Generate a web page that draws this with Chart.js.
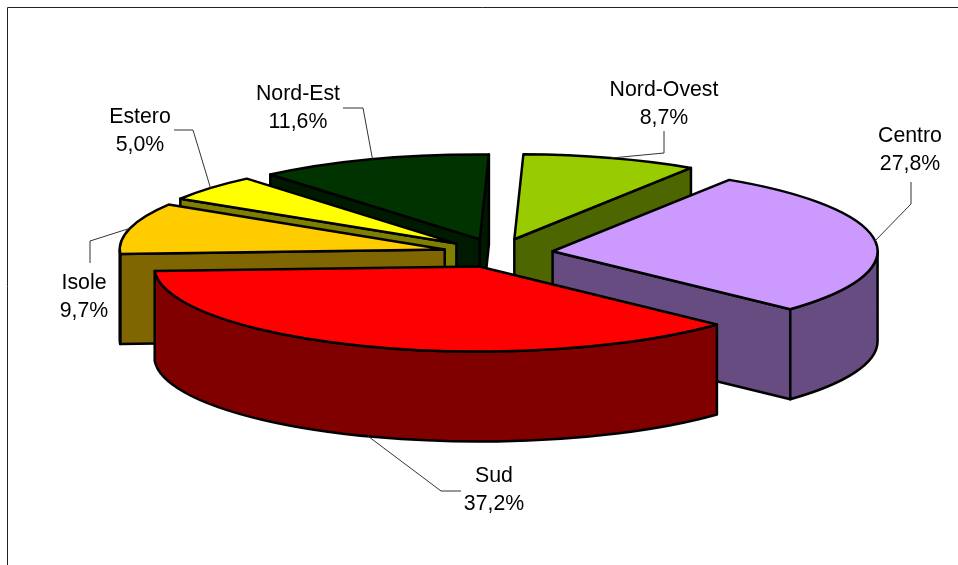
<!DOCTYPE html>
<html>
<head>
<meta charset="utf-8">
<title>Ripartizione</title>
<script src="https://cdn.jsdelivr.net/npm/chart.js@4/dist/chart.umd.min.js"></script>
<style>
  html, body { margin: 0; padding: 0; background: #fff; }
  canvas { display: block; }
</style>
</head>
<body>
<canvas id="myChart" width="958" height="565"></canvas>
<script>
const categories = ['Nord-Ovest', 'Centro', 'Sud', 'Isole', 'Estero', 'Nord-Est']
const shares = [8.7, 27.8, 37.2, 9.7, 5.0, 11.6]
const topColors = ['#99CC00', '#CC99FF', '#FF0000', '#FFCC00', '#FFFF00', '#003300']
const sideColors = ['#4D6600', '#664C80', '#800000', '#806600', '#808000', '#001A00']

// label centre (x, first line y) and the two leader points, same order as categories
const labelPos = [[664, 90], [910, 136], [494, 476], [84, 283], [140, 117], [298, 94]]
const leaderPts = [
    [[664, 153], [664, 131]],
    [[911, 204], [911, 182]],
    [[441, 491], [461, 491]],
    [[90, 241], [90, 263]],
    [[193, 130], [174, 130]],
    [[363, 108], [343, 108]]
]

// projection of the flat pie onto the tilted view
const view = { cx: 498, cy: 253, rx: 325, ry: 85, depth: 90 }

const pie3d = {
    id: 'pie3d',
    beforeDraw(chart) {
        const ctx = chart.ctx
        ctx.save()
        ctx.strokeStyle = '#222'
        ctx.lineWidth = 1
        ctx.beginPath()
        ctx.moveTo(958, 7.5)
        ctx.lineTo(7.5, 7.5)
        ctx.lineTo(7.5, 565)
        ctx.stroke()
        ctx.restore()
    },
    beforeDatasetsDraw(chart) {
        const ctx = chart.ctx
        const arcs = chart.getDatasetMeta(0).data

        const slices = arcs.map((arc, i) => {
            const props = arc.getProps(['startAngle', 'endAngle'], true)
            const mid = (props.startAngle + props.endAngle) / 2
            return {
                i,
                start: props.startAngle,
                end: props.endAngle,
                mid,
                ax: view.cx + Math.cos(mid) * arc.options.offset,
                ay: view.cy + Math.sin(mid) * arc.options.offset * view.ry / view.rx
            }
        })

        const rim = (s, a) => [s.ax + Math.cos(a) * view.rx, s.ay + Math.sin(a) * view.ry]

        ctx.save()
        ctx.lineJoin = 'round'
        ctx.lineWidth = 2.5
        ctx.strokeStyle = '#000'

        // back slices first, the front one last
        slices.slice().sort((a, b) => Math.sin(a.mid) - Math.sin(b.mid)).forEach(s => {
            const d = view.depth
            ctx.fillStyle = sideColors[s.i]

            // radial walls, only the ones turned towards the viewer
            ;[[s.start, s.start - Math.PI / 2], [s.end, s.end + Math.PI / 2]].forEach(([a, n]) => {
                if (Math.sin(n) <= 0) return
                const p = rim(s, a)
                ctx.beginPath()
                ctx.moveTo(s.ax, s.ay)
                ctx.lineTo(p[0], p[1])
                ctx.lineTo(p[0], p[1] + d)
                ctx.lineTo(s.ax, s.ay + d)
                ctx.closePath()
                ctx.fill()
                ctx.stroke()
            })

            // outer wall, lower half of the ellipse only
            const from = Math.max(s.start, 0)
            const to = Math.min(s.end, Math.PI)
            if (to > from) {
                ctx.beginPath()
                ctx.ellipse(s.ax, s.ay, view.rx, view.ry, 0, from, to)
                ctx.ellipse(s.ax, s.ay + d, view.rx, view.ry, 0, to, from, true)
                ctx.closePath()
                ctx.fill()
                ctx.stroke()
            }

            // top face
            ctx.fillStyle = topColors[s.i]
            ctx.beginPath()
            ctx.moveTo(s.ax, s.ay)
            ctx.ellipse(s.ax, s.ay, view.rx, view.ry, 0, s.start, s.end)
            ctx.closePath()
            ctx.fill()
            ctx.stroke()
        })

        // leader lines, starting on the visible rim at the middle of the slice
        ctx.lineWidth = 1
        ctx.strokeStyle = '#333'
        slices.forEach(s => {
            const p = rim(s, s.mid)
            const y0 = Math.sin(s.mid) > 0 ? p[1] + view.depth : p[1]
            ctx.beginPath()
            ctx.moveTo(p[0], y0)
            leaderPts[s.i].forEach(q => ctx.lineTo(q[0], q[1]))
            ctx.stroke()
        })

        // data labels
        ctx.fillStyle = '#000'
        ctx.font = '21.3px "Liberation Sans", Arial, sans-serif'
        ctx.textAlign = 'center'
        ctx.textBaseline = 'middle'
        slices.forEach(s => {
            const pos = labelPos[s.i]
            ctx.fillText(categories[s.i], pos[0], pos[1])
            ctx.fillText(shares[s.i].toFixed(1).replace('.', ',') + '%', pos[0], pos[1] + 28)
        })
        ctx.restore()

        return false
    }
}

const data = {
    labels: categories,
    datasets: [{
        data: shares,
        backgroundColor: topColors,
        borderColor: '#000',
        borderWidth: 2,
        offset: 55
    }]
}

const config = {
    type: 'pie',
    data,
    options: {
        responsive: false,
        animation: false,
        events: [],
        rotation: 1.6,
        plugins: {
            legend: { display: false },
            tooltip: { enabled: false }
        }
    },
    plugins: [pie3d]
}

var myChart = new Chart(document.getElementById('myChart'), config)
</script>
</body>
</html>
